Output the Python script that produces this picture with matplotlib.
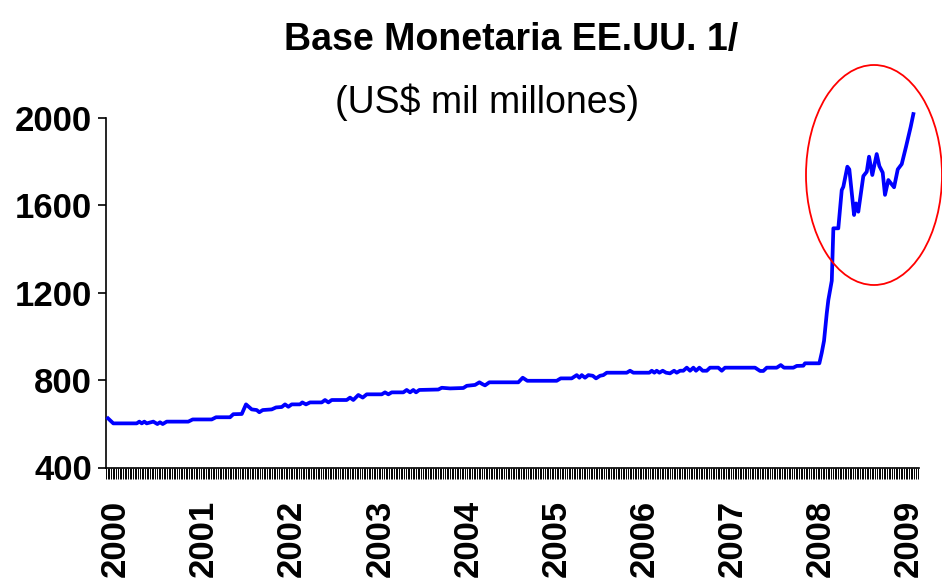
import numpy as np
import matplotlib
matplotlib.use("Agg")
import matplotlib.pyplot as plt
from matplotlib.patches import Ellipse

# ── Data ─────────────────────────────────────────────────────────────────────
fechas = [
    2000.000, 2000.060, 2000.326, 2000.355, 2000.383, 2000.412, 2000.439,
    2000.514, 2000.560, 2000.590, 2000.621, 2000.666, 2000.911, 2000.961,
    2001.177, 2001.226, 2001.385, 2001.422, 2001.518, 2001.566, 2001.631,
    2001.688, 2001.717, 2001.756, 2001.858, 2001.907, 2001.972, 2002.009,
    2002.047, 2002.085, 2002.179, 2002.205, 2002.247, 2002.293, 2002.426,
    2002.463, 2002.501, 2002.539, 2002.709, 2002.747, 2002.784, 2002.841,
    2002.891, 2002.936, 2003.107, 2003.144, 2003.182, 2003.220, 2003.352,
    2003.390, 2003.428, 2003.465, 2003.496, 2003.533, 2003.749, 2003.788,
    2003.882, 2004.033, 2004.072, 2004.166, 2004.215, 2004.253, 2004.279,
    2004.328, 2004.657, 2004.707, 2004.759, 2005.093, 2005.138, 2005.263,
    2005.320, 2005.350, 2005.377, 2005.414, 2005.452, 2005.502, 2005.539,
    2005.585, 2005.622, 2005.661, 2005.888, 2005.925, 2005.963, 2006.144,
    2006.172, 2006.201, 2006.228, 2006.258, 2006.296, 2006.334, 2006.379,
    2006.425, 2006.455, 2006.493, 2006.530, 2006.569, 2006.606, 2006.644,
    2006.674, 2006.712, 2006.750, 2006.796, 2006.833, 2006.927, 2006.966,
    2007.003, 2007.344, 2007.401, 2007.438, 2007.477, 2007.590, 2007.636,
    2007.673, 2007.779, 2007.817, 2007.892, 2007.911, 2008.074, 2008.101,
    2008.127, 2008.158, 2008.176, 2008.215, 2008.233, 2008.289, 2008.328,
    2008.346, 2008.392, 2008.414, 2008.468, 2008.490, 2008.516, 2008.573,
    2008.612, 2008.638, 2008.675, 2008.725, 2008.755, 2008.793, 2008.819,
    2008.857, 2008.922, 2008.964, 2009.009, 2009.058, 2009.111, 2009.141,
]
base = [
    625, 602, 602, 610, 602, 610, 602,
    610, 599, 607, 599, 610, 610, 620,
    620, 630, 630, 644, 645, 689, 666,
    663, 653, 663, 666, 675, 677, 689,
    678, 689, 689, 698, 689, 698, 698,
    709, 698, 709, 709, 720, 709, 732,
    720, 735, 735, 744, 735, 744, 744,
    755, 744, 755, 744, 755, 757, 765,
    762, 764, 774, 778, 790, 781, 776,
    790, 790, 811, 797, 797, 808, 808,
    823, 811, 823, 811, 823, 820, 808,
    820, 823, 834, 834, 843, 834, 834,
    843, 834, 843, 834, 843, 834, 831,
    843, 834, 843, 843, 857, 843, 857,
    843, 857, 843, 843, 857, 857, 843,
    857, 857, 842, 842, 857, 857, 869,
    857, 857, 865, 866, 877, 877, 925,
    980, 1106, 1167, 1255, 1495, 1495, 1670,
    1685, 1777, 1765, 1556, 1609, 1571, 1734,
    1754, 1823, 1739, 1835, 1780, 1750, 1648,
    1716, 1683, 1765, 1789, 1869, 1960, 2018,
]
anios = list(range(2000, 2010))
y_ticks = [400, 800, 1200, 1600, 2000]

TITULO = "Base Monetaria EE.UU. 1/"
SUBTITULO = "(US$ mil millones)"

ARIAL = ["Liberation Sans", "DejaVu Sans"]

W, H = 942, 583
fig = plt.figure(figsize=(W / 100, H / 100), dpi=100, facecolor="white")

# axes box in pixels: left 106, right 919, top 118, bottom 467.5
ax = fig.add_axes([106 / W, 1 - 467.5 / H, (919 - 106) / W, (467.5 - 118) / H])

ax.plot(fechas, base, color="#0000FF", lw=2.7, clip_on=False,
        solid_joinstyle="round", zorder=3)

ax.set_xlim(1999.977, 2009.205)
ax.set_ylim(400, 2000)

for s in ["top", "right"]:
    ax.spines[s].set_visible(False)
for s in ["left", "bottom"]:
    ax.spines[s].set_linewidth(1.2)

# y axis
ax.set_yticks(y_ticks)
ax.set_yticklabels([str(v) for v in y_ticks])
ax.tick_params(axis="y", direction="out", length=6, width=1.2, pad=4)
for lab in ax.get_yticklabels():
    lab.set_fontfamily(ARIAL)
    lab.set_fontweight("bold")
    lab.set_fontsize(25)

# x axis: weekly minor ticks, year labels
ax.set_xticks(np.arange(1999.977, 2009.205, 1 / 52), minor=True)
ax.set_xticks([a + 0.085 for a in anios])
ax.set_xticklabels([str(a) for a in anios], rotation=90)
ax.tick_params(axis="x", which="minor", direction="out", length=8, width=0.7)
ax.tick_params(axis="x", which="major", length=0, pad=23)
for lab in ax.get_xticklabels():
    lab.set_fontfamily(ARIAL)
    lab.set_fontweight("bold")
    lab.set_fontsize(25)

# titles
fig.text(511 / W, 1 - 50 / H, TITULO, ha="center", va="baseline",
         fontsize=27, fontweight="bold", family=ARIAL)
fig.text(487 / W, 1 - 113 / H, SUBTITULO, ha="center", va="baseline",
         fontsize=27, family=ARIAL)

# red highlight ellipse
ell = Ellipse((874 / W, 1 - 175 / H), 136 / W, 220 / H,
              transform=fig.transFigure, fill=False, ec="#FF0000", lw=1.3,
              clip_on=False, zorder=5)
fig.patches.append(ell)

fig.savefig("out.png", dpi=100, facecolor="white")
